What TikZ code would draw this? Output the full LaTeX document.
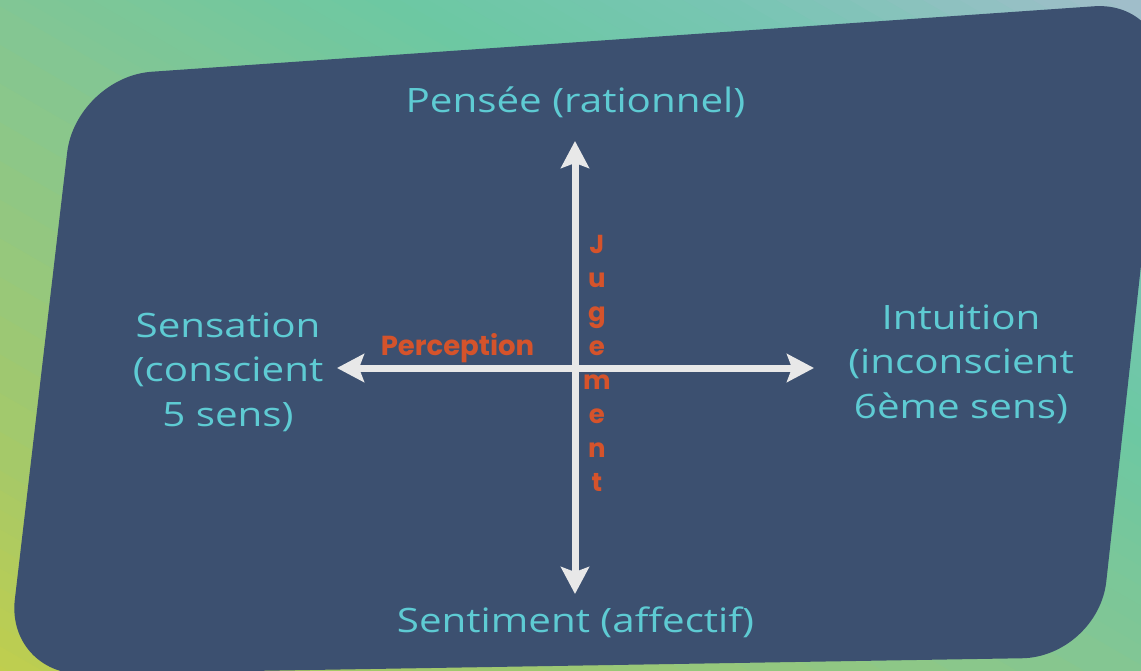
\documentclass[tikz,border=0pt]{standalone}
\usepackage{fontspec}
\newfontfamily\labfont[FakeStretch=1.2]{Open Sans}
\newfontfamily\keyfont{Poppins}
\usetikzlibrary{arrows.meta}
\definecolor{panel}{HTML}{3C5070}
\definecolor{labteal}{HTML}{5ECBD3}
\definecolor{keyred}{HTML}{D5532B}
\definecolor{axisgrey}{HTML}{E8E8E8}
\definecolor{gA}{HTML}{C4CF4A}
\definecolor{gB}{HTML}{A7C967}
\definecolor{gC}{HTML}{82C694}
\definecolor{gD}{HTML}{6CC8A3}
\definecolor{gE}{HTML}{79C5B4}
\definecolor{gF}{HTML}{A6BDCD}
\newcommand\gradseg[4]{%
  \foreach \i in {0,...,11}{%
    \pgfmathsetmacro\ga{#1+(#2-#1)*\i/12}%
    \pgfmathsetmacro\gb{#1+(#2-#1)*(\i+1)/12+0.8}%
    \pgfmathsetmacro\gp{100*(1-(\i+0.5)/12)}%
    \fill[#3!\gp!#4] (\ga,-1500) rectangle (\gb,1500);
  }}
\tikzset{
  lab/.style={text=labteal, inner sep=0pt, font=\labfont\fontsize{33.6}{44.5}\selectfont},
  key/.style={text=keyred, inner sep=0pt, font=\keyfont\bfseries\fontsize{27.5}{34}\selectfont},
  axisline/.style={draw=axisgrey, line width=7pt,
    {Stealth[length=27pt,width=28pt,inset=5pt]}-{Stealth[length=27pt,width=28pt,inset=5pt]}}
}
\begin{document}
\begin{tikzpicture}[x=1pt,y=-1pt]
\useasboundingbox (0,0) rectangle (1141,670);
\begin{scope}
  \clip (0,0) rectangle (1141,670);
  \begin{scope}[shift={(0,670)},rotate=60]
    \gradseg{-30}{173}{gA}{gB}
    \gradseg{173}{575}{gB}{gC}
    \gradseg{575}{780}{gC}{gD}
    \gradseg{780}{950}{gD}{gE}
    \gradseg{950}{1170}{gE}{gF}
  \end{scope}
  \fill[panel, rounded corners=76pt] (76,77) -- (1170,1) -- (1098,657) -- (6,675) -- cycle;
\end{scope}

\coordinate (vt) at (575,141);
\coordinate (vb) at (575,594);
\coordinate (hl) at (337,368);
\coordinate (hr) at (814,368);
\draw[axisline] (hl) -- (hr);
\draw[axisline] (vb) -- (vt);

\node[lab, anchor=base] (think) at (575.5,112) {Pensée (rationnel)};
\node[lab, anchor=base] (feel) at (575.5,632) {Sentiment (affectif)};
\node[lab, anchor=base, align=center] (sens) at (228,426) {Sensation\\(conscient\\5 sens)};
\node[lab, anchor=base, align=center] (intu) at (961,418) {Intuition\\(inconscient\\6ème sens)};
\node[key, anchor=base] (perc) at (457.5,355) {Perception};
\node[key, anchor=base, align=center, font=\keyfont\bfseries\fontsize{26}{34}\selectfont] (jug) at (597,491) {J\\u\\g\\e\\m\\e\\n\\t};
\end{tikzpicture}
\end{document}
